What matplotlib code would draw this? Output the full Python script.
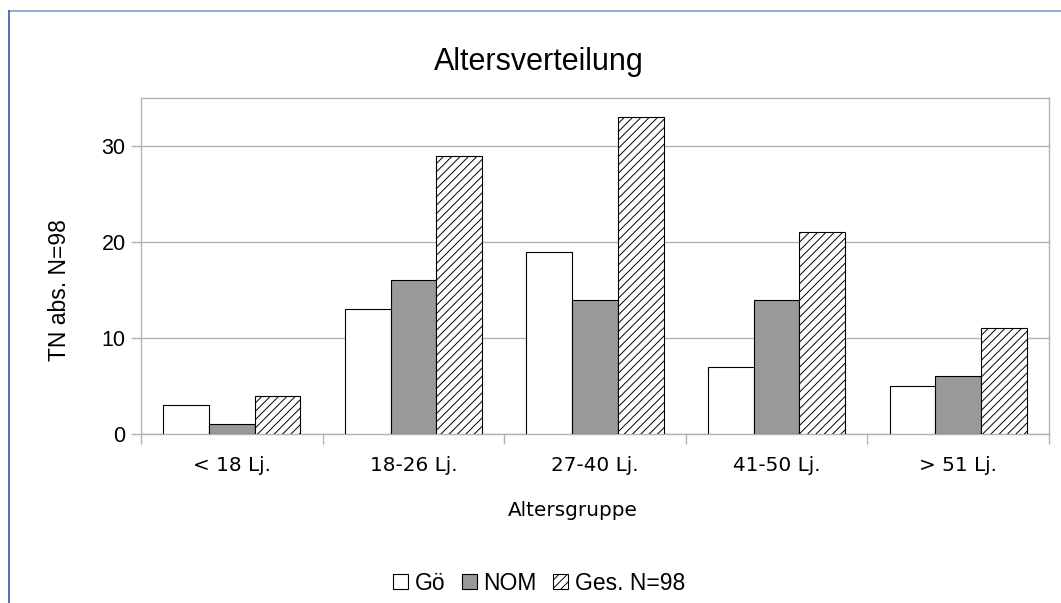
import numpy as np
import matplotlib.pyplot as plt
from matplotlib.lines import Line2D

plt.rcParams['hatch.linewidth'] = 0.7

groups = ["< 18 Lj.", "18-26 Lj.", "27-40 Lj.", "41-50 Lj.", "> 51 Lj."]
goe = [3, 13, 19, 7, 5]
nom = [1, 16, 14, 14, 6]
ges = [4, 29, 33, 21, 11]
series_names = ["Gö", "NOM", "Ges. N=98"]

W, H = 1061, 603
fig = plt.figure(figsize=(W / 100, H / 100), dpi=100)
ax = fig.add_axes([141 / W, 1 - 434 / H, (1049 - 141) / W, (434 - 98) / H])

x = np.arange(len(groups))
bw = 0.252
ax.bar(x - bw, goe, bw, color='white', edgecolor='black', linewidth=0.8, label=series_names[0], zorder=3)
ax.bar(x, nom, bw, color='#999999', edgecolor='black', linewidth=0.8, label=series_names[1], zorder=3)
ax.bar(x + bw, ges, bw, color='white', edgecolor='black', linewidth=0.8, hatch='////', label=series_names[2], zorder=3)

ax.set_xlim(-0.5, len(groups) - 0.5)
ax.set_ylim(0, 35)

# grid and frame
ax.set_yticks([0, 10, 20, 30])
ax.yaxis.grid(True, color='#b3b3b3', linewidth=1)
ax.set_axisbelow(True)
for s in ax.spines.values():
    s.set_color('#b3b3b3')
    s.set_linewidth(1)

ax.tick_params(axis='y', length=7, width=1, color='#b3b3b3', pad=4, labelsize=15.5)
for t in ax.get_yticklabels():
    t.set_fontfamily('Liberation Sans')

# category boundaries as major ticks, labels on minor ticks
ax.set_xticks(np.arange(len(groups) + 1) - 0.5)
ax.set_xticklabels([])
ax.set_xticks(x, minor=True)
ax.set_xticklabels(groups, minor=True, fontsize=14.4, family='DejaVu Sans')
ax.tick_params(axis='x', which='major', length=7, width=1, color='#b3b3b3')
ax.tick_params(axis='x', which='minor', length=0, pad=16)

fig.text(539 / W, 1 - 62 / H, "Altersverteilung", ha='center', va='center',
         fontsize=22, family='Liberation Sans')
fig.text(573 / W, 1 - 510 / H, "Altersgruppe", ha='center', va='center',
         fontsize=14.4, family='DejaVu Sans')
fig.text(59 / W, 1 - 290 / H, "TN abs. N=98", ha='center', va='center', rotation=90,
         fontsize=16.5, family='Liberation Sans')

fig.legend(loc='center', bbox_to_anchor=(539 / W, 1 - 583 / H), ncol=3, frameon=False,
           prop={'family': 'Liberation Sans', 'size': 16.5},
           handlelength=0.65, handleheight=0.65, handletextpad=0.3, columnspacing=0.7,
           borderaxespad=0, borderpad=0)

# outer frame (top and left edges visible)
fig.add_artist(Line2D([8.5 / W, 1], [1 - 11 / H, 1 - 11 / H], color='#7fa0c4', linewidth=1.2,
                      transform=fig.transFigure))
fig.add_artist(Line2D([8.5 / W, 8.5 / W], [0, 1 - 11 / H], color='#2a5fa8', linewidth=1.2,
                      transform=fig.transFigure))

fig.savefig('out.png', dpi=100)
